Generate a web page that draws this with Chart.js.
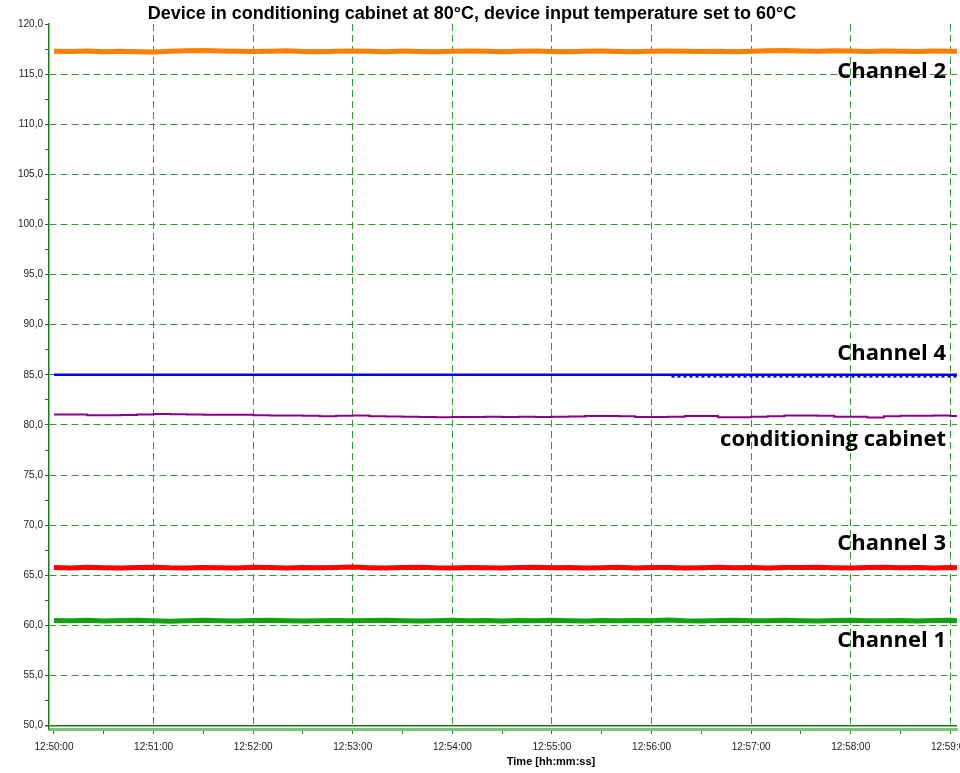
<!DOCTYPE html>
<html>
<head>
<meta charset="utf-8">
<script src="https://cdn.jsdelivr.net/npm/chart.js@4"></script>
<style>
  html, body { margin: 0; padding: 0; background: #fff; }
  #wrap { width: 960px; height: 773px; }
</style>
</head>
<body>
<div id="wrap"><canvas id="chart"></canvas></div>
<script>
// time in seconds after 12:50:00
const times = [0,10,20,30,40,50,60,70,80,90,100,110,120,130,140,150,160,170,180,190,200,210,220,230,240,250,260,270,280,290,300,310,320,330,340,350,360,370,380,390,400,410,420,430,440,450,460,470,480,490,500,510,520,530,540,544];

const channel2 = [117.28,117.25,117.30,117.24,117.27,117.22,117.20,117.29,117.33,117.36,117.30,117.27,117.25,117.29,117.32,117.26,117.22,117.28,117.31,117.27,117.24,117.30,117.26,117.22,117.28,117.30,117.27,117.24,117.29,117.31,117.26,117.23,117.28,117.30,117.25,117.22,117.27,117.31,117.28,117.25,117.29,117.24,117.27,117.32,117.35,117.30,117.27,117.33,117.30,117.26,117.30,117.28,117.25,117.30,117.27,117.28];
const cabinet = [81.05,81.05,80.97,80.98,81.00,81.05,81.10,81.08,81.05,81.03,81.03,81.02,80.97,80.95,80.95,80.92,80.88,80.93,80.95,80.87,80.85,80.83,80.80,80.78,80.80,80.80,80.81,80.80,80.81,80.80,80.81,80.85,80.90,80.90,80.87,80.80,80.80,80.83,80.90,80.90,80.77,80.77,80.83,80.88,80.95,80.95,80.93,80.83,80.81,80.75,80.88,80.92,80.92,80.95,80.90,80.87];
const channel3 = [65.78,65.74,65.80,65.76,65.72,65.77,65.81,65.75,65.73,65.79,65.76,65.74,65.80,65.77,65.73,65.78,65.75,65.79,65.82,65.76,65.72,65.77,65.80,65.75,65.74,65.79,65.76,65.73,65.78,65.81,65.75,65.77,65.72,65.76,65.80,65.74,65.77,65.79,65.73,65.76,65.80,65.75,65.78,65.74,65.79,65.77,65.81,65.76,65.73,65.78,65.80,65.75,65.77,65.74,65.79,65.76];
const channel1 = [60.50,60.47,60.52,60.45,60.49,60.51,60.46,60.43,60.48,60.52,60.47,60.45,60.50,60.53,60.48,60.44,60.47,60.50,60.46,60.49,60.52,60.47,60.44,60.48,60.51,60.46,60.49,60.45,60.50,60.47,60.52,60.48,60.45,60.49,60.46,60.50,60.47,60.55,60.48,60.45,60.49,60.51,60.46,60.48,60.52,60.47,60.44,60.49,60.51,60.46,60.48,60.50,60.45,60.49,60.52,60.48];
const channel4Times = [0, 544];
const channel4 = [85.0, 85.0];
const channel4JitterTimes = [372, 544];
const channel4Jitter = [84.82, 84.82];

const yTicks = [50,52.5,55,57.5,60,62.5,65,67.5,70,72.5,75,77.5,80,82.5,85,87.5,90,92.5,95,97.5,100,102.5,105,107.5,110,112.5,115,117.5,120];
const xTicks = [0,30,60,90,120,150,180,210,240,270,300,330,360,390,420,450,480,510,540];
const xTickLabels = ['12:50:00','12:51:00','12:52:00','12:53:00','12:54:00','12:55:00','12:56:00','12:57:00','12:58:00','12:59:00'];

const pts = (xs, ys) => xs.map((x, i) => ({ x: x, y: ys[i] }));

const GRID = '#2f9a2f';
const AXIS = '#1a7a1a';

// series annotations: text placed a few pixels above / below a trace
const notes = [
  { text: 'Channel 2', ds: 0, dy: 20 },
  { text: 'Channel 4', ds: 1, dy: -21 },
  { text: 'conditioning cabinet', ds: 3, dy: 23 },
  { text: 'Channel 3', ds: 4, dy: -24 },
  { text: 'Channel 1', ds: 5, dy: 20 }
];

const textPlugin = {
  id: 'texts',
  afterDraw(chart) {
    const ctx = chart.ctx;
    const y = chart.scales.y;
    const area = chart.chartArea;
    ctx.save();
    ctx.fillStyle = '#000';
    ctx.textBaseline = 'middle';
    ctx.font = 'bold 18px "Liberation Sans", Arial, sans-serif';
    ctx.textAlign = 'center';
    ctx.fillText('Device in conditioning cabinet at 80°C, device input temperature set to 60°C', 472, 14);
    ctx.font = 'bold 11px "Liberation Sans", Arial, sans-serif';
    ctx.fillText('Time [hh:mm:ss]', 551, 762);
    ctx.font = 'bold 22px "Open Sans", sans-serif';
    ctx.textAlign = 'right';
    notes.forEach(n => {
      const d = chart.data.datasets[n.ds].data;
      const py = y.getPixelForValue(d[d.length - 1].y) + n.dy;
      ctx.fillText(n.text, area.right - 11, py);
    });
    ctx.restore();
  }
};

new Chart(document.getElementById('chart'), {
  type: 'line',
  data: {
    datasets: [
      { label: 'Channel 2', data: pts(times, channel2), borderColor: '#ff8000', borderWidth: 5 },
      { label: 'Channel 4', data: pts(channel4Times, channel4), borderColor: '#0000ff', borderWidth: 2.5 },
      { label: 'Channel 4 jitter', data: pts(channel4JitterTimes, channel4Jitter), borderColor: '#0000ff', borderWidth: 2, borderDash: [3, 3] },
      { label: 'conditioning cabinet', data: pts(times, cabinet), borderColor: '#8b008b', borderWidth: 2, stepped: true },
      { label: 'Channel 3', data: pts(times, channel3), borderColor: '#ff0000', borderWidth: 5 },
      { label: 'Channel 1', data: pts(times, channel1), borderColor: '#10a010', borderWidth: 5 }
    ]
  },
  options: {
    responsive: true,
    maintainAspectRatio: false,
    animation: false,
    layout: { padding: { top: 24, right: 3, left: 0, bottom: 0 } },
    elements: { point: { radius: 0 }, line: { tension: 0 } },
    plugins: { legend: { display: false }, tooltip: { enabled: false }, title: { display: false } },
    scales: {
      x: {
        type: 'linear',
        min: -3,
        max: 544,
        afterBuildTicks: s => { s.ticks = xTicks.map(v => ({ value: v })); },
        afterFit: s => { s.height = 44; s.paddingLeft = 0; s.paddingRight = 0; },
        ticks: {
          autoSkip: false,
          maxRotation: 0,
          padding: 7,
          color: '#222',
          font: { family: '"Liberation Sans", Arial, sans-serif', size: 10 },
          callback: v => (v % 60 === 0 ? xTickLabels[v / 60] : '')
        },
        grid: {
          color: c => (c.tick && c.tick.value % 60 === 0 && c.tick.value !== 0 ? GRID : 'rgba(0,0,0,0)'),
          tickColor: AXIS,
          tickLength: 5,
          lineWidth: 1
        },
        border: { display: true, color: '#7cc47c', width: 3, dash: [7, 4] }
      },
      y: {
        min: 49.67,
        max: 120,
        afterBuildTicks: s => { s.ticks = yTicks.map(v => ({ value: v })); },
        afterFit: s => { s.width = 49; s.paddingTop = 0; s.paddingBottom = 0; },
        ticks: {
          padding: 2,
          color: '#222',
          font: { family: '"Liberation Sans", Arial, sans-serif', size: 10 },
          callback: v => (v % 5 === 0 ? v.toFixed(1).replace('.', ',') : '')
        },
        grid: {
          color: c => {
            if (!c.tick) return 'rgba(0,0,0,0)';
            const v = c.tick.value;
            if (v === 50) return AXIS;
            if (v === 120 || v % 5 !== 0) return 'rgba(0,0,0,0)';
            return GRID;
          },
          tickColor: AXIS,
          tickLength: 4,
          lineWidth: c => (c.tick && c.tick.value === 50 ? 1.5 : 1)
        },
        border: {
          display: true,
          color: AXIS,
          width: 1.5,
          dash: c => (c.tick && c.tick.value === 50 ? [] : [7, 4])
        }
      }
    }
  },
  plugins: [textPlugin]
});
</script>
</body>
</html>
